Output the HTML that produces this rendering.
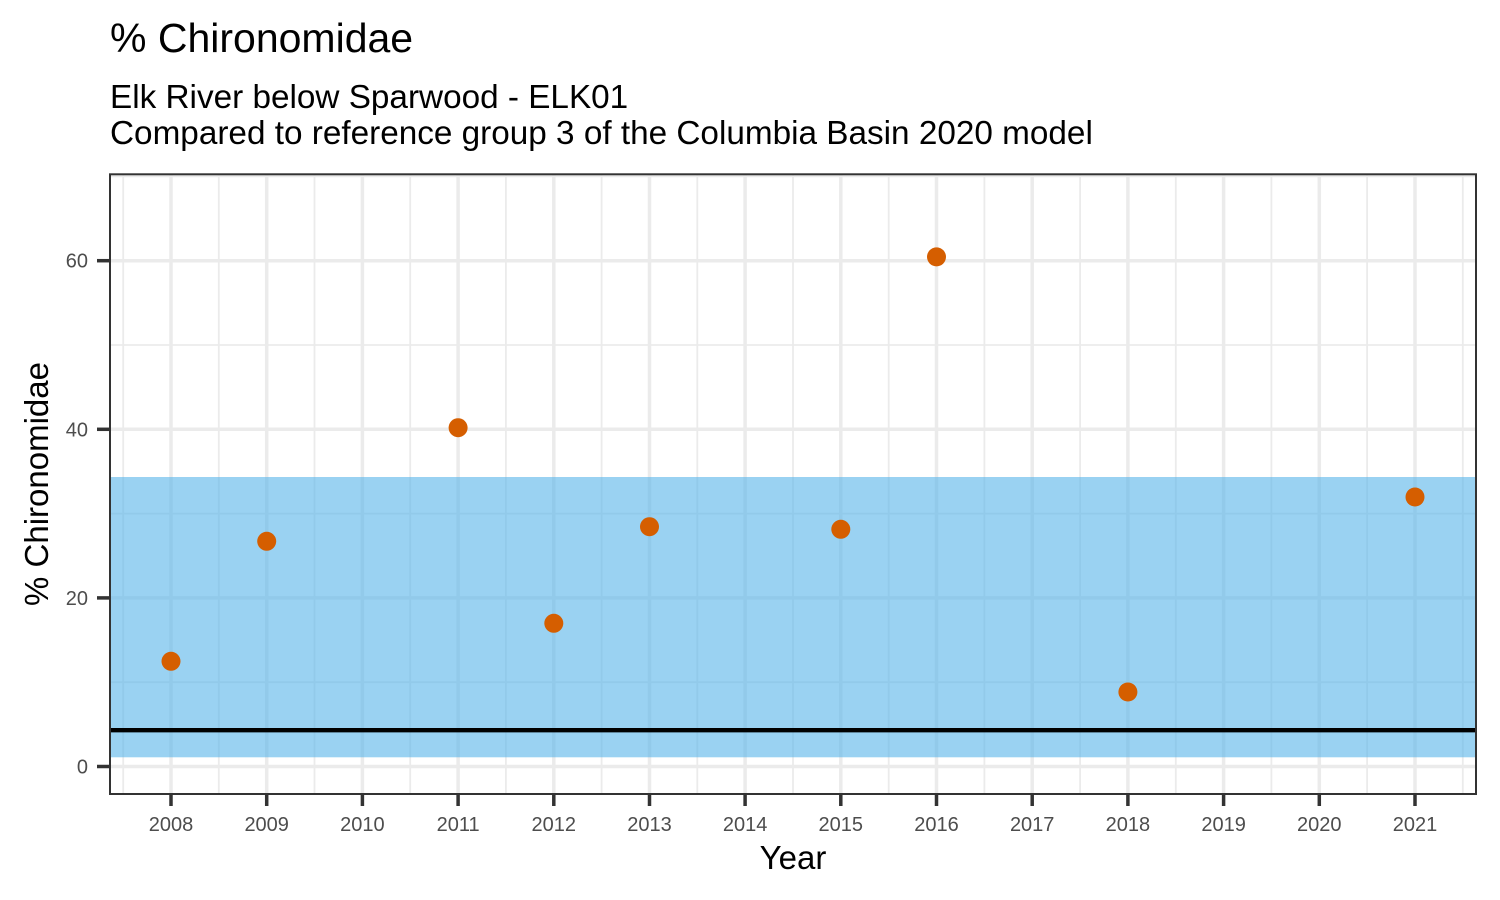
<!DOCTYPE html>
<html>
<head>
<meta charset="utf-8">
<style>
  html, body { margin: 0; padding: 0; background: #ffffff; }
  svg { display: block; }
  text { font-family: "Liberation Sans", Arial, sans-serif; }
</style>
</head>
<body>
<svg width="1500" height="900" viewBox="0 0 1500 900" xmlns="http://www.w3.org/2000/svg">
  <rect x="0" y="0" width="1500" height="900" fill="#ffffff"/>

  <!-- Titles -->
  <text x="110" y="52" font-size="41" fill="#000000">% Chironomidae</text>
  <text x="110" y="108" font-size="33.3" fill="#000000">Elk River below Sparwood - ELK01</text>
  <text x="110" y="144" font-size="33.3" fill="#000000">Compared to reference group 3 of the Columbia Basin 2020 model</text>

  <!-- Panel background -->
  <rect x="110" y="174" width="1366" height="620" fill="#ffffff"/>

  <g clip-path="url(#pc)">
    <clipPath id="pc"><rect x="110" y="174" width="1366" height="620"/></clipPath>
    <!-- minor grid -->
    <g stroke="#EBEBEB" stroke-width="1.8">
      <line x1="123.2" y1="174" x2="123.2" y2="794"/>
      <line x1="218.8" y1="174" x2="218.8" y2="794"/>
      <line x1="314.5" y1="174" x2="314.5" y2="794"/>
      <line x1="410.2" y1="174" x2="410.2" y2="794"/>
      <line x1="505.9" y1="174" x2="505.9" y2="794"/>
      <line x1="601.6" y1="174" x2="601.6" y2="794"/>
      <line x1="697.3" y1="174" x2="697.3" y2="794"/>
      <line x1="793.0" y1="174" x2="793.0" y2="794"/>
      <line x1="888.7" y1="174" x2="888.7" y2="794"/>
      <line x1="984.4" y1="174" x2="984.4" y2="794"/>
      <line x1="1080.1" y1="174" x2="1080.1" y2="794"/>
      <line x1="1175.8" y1="174" x2="1175.8" y2="794"/>
      <line x1="1271.4" y1="174" x2="1271.4" y2="794"/>
      <line x1="1367.1" y1="174" x2="1367.1" y2="794"/>
      <line x1="1462.8" y1="174" x2="1462.8" y2="794"/>
      <line x1="110" y1="682.2" x2="1476" y2="682.2"/>
      <line x1="110" y1="513.6" x2="1476" y2="513.6"/>
      <line x1="110" y1="345.0" x2="1476" y2="345.0"/>
      <line x1="110" y1="176.4" x2="1476" y2="176.4"/>
    </g>
    <!-- major grid -->
    <g stroke="#EBEBEB" stroke-width="3.5">
      <line x1="171" y1="174" x2="171" y2="794"/>
      <line x1="266.7" y1="174" x2="266.7" y2="794"/>
      <line x1="362.4" y1="174" x2="362.4" y2="794"/>
      <line x1="458.1" y1="174" x2="458.1" y2="794"/>
      <line x1="553.8" y1="174" x2="553.8" y2="794"/>
      <line x1="649.5" y1="174" x2="649.5" y2="794"/>
      <line x1="745.1" y1="174" x2="745.1" y2="794"/>
      <line x1="840.8" y1="174" x2="840.8" y2="794"/>
      <line x1="936.5" y1="174" x2="936.5" y2="794"/>
      <line x1="1032.2" y1="174" x2="1032.2" y2="794"/>
      <line x1="1127.9" y1="174" x2="1127.9" y2="794"/>
      <line x1="1223.6" y1="174" x2="1223.6" y2="794"/>
      <line x1="1319.3" y1="174" x2="1319.3" y2="794"/>
      <line x1="1415" y1="174" x2="1415" y2="794"/>
      <line x1="110" y1="766.5" x2="1476" y2="766.5"/>
      <line x1="110" y1="597.9" x2="1476" y2="597.9"/>
      <line x1="110" y1="429.3" x2="1476" y2="429.3"/>
      <line x1="110" y1="260.7" x2="1476" y2="260.7"/>
    </g>

    <!-- reference band -->
    <rect x="110" y="477" width="1366" height="280.3" fill="#56B4E9" fill-opacity="0.6"/>

    <!-- reference line -->
    <line x1="110" y1="730.2" x2="1476" y2="730.2" stroke="#000000" stroke-width="4.3"/>

    <!-- points -->
    <g fill="#D55E00">
      <circle cx="171" cy="661.3" r="9.5"/>
      <circle cx="266.7" cy="541.3" r="9.5"/>
      <circle cx="458.1" cy="427.7" r="9.5"/>
      <circle cx="553.8" cy="623.3" r="9.5"/>
      <circle cx="649.5" cy="526.7" r="9.5"/>
      <circle cx="840.8" cy="529.3" r="9.5"/>
      <circle cx="936.5" cy="256.9" r="9.5"/>
      <circle cx="1127.9" cy="692" r="9.5"/>
      <circle cx="1415" cy="497" r="9.5"/>
    </g>
  </g>

  <!-- panel border -->
  <rect x="110" y="174.3" width="1366" height="619.7" fill="none" stroke="#333333" stroke-width="2"/>

  <!-- y ticks -->
  <g stroke="#333333" stroke-width="3.5">
    <line x1="97" y1="766.5" x2="110" y2="766.5"/>
    <line x1="97" y1="597.9" x2="110" y2="597.9"/>
    <line x1="97" y1="429.3" x2="110" y2="429.3"/>
    <line x1="97" y1="260.7" x2="110" y2="260.7"/>
  </g>
  <g font-size="20" fill="#4D4D4D" text-anchor="end">
    <text x="88" y="773.5">0</text>
    <text x="88" y="604.9">20</text>
    <text x="88" y="436.3">40</text>
    <text x="88" y="267.7">60</text>
  </g>

  <!-- x ticks -->
  <g stroke="#333333" stroke-width="3.5">
    <line x1="171" y1="794" x2="171" y2="806"/>
    <line x1="266.7" y1="794" x2="266.7" y2="806"/>
    <line x1="362.4" y1="794" x2="362.4" y2="806"/>
    <line x1="458.1" y1="794" x2="458.1" y2="806"/>
    <line x1="553.8" y1="794" x2="553.8" y2="806"/>
    <line x1="649.5" y1="794" x2="649.5" y2="806"/>
    <line x1="745.1" y1="794" x2="745.1" y2="806"/>
    <line x1="840.8" y1="794" x2="840.8" y2="806"/>
    <line x1="936.5" y1="794" x2="936.5" y2="806"/>
    <line x1="1032.2" y1="794" x2="1032.2" y2="806"/>
    <line x1="1127.9" y1="794" x2="1127.9" y2="806"/>
    <line x1="1223.6" y1="794" x2="1223.6" y2="806"/>
    <line x1="1319.3" y1="794" x2="1319.3" y2="806"/>
    <line x1="1415" y1="794" x2="1415" y2="806"/>
  </g>
  <g font-size="20" fill="#4D4D4D" text-anchor="middle">
    <text x="171" y="831">2008</text>
    <text x="266.7" y="831">2009</text>
    <text x="362.4" y="831">2010</text>
    <text x="458.1" y="831">2011</text>
    <text x="553.8" y="831">2012</text>
    <text x="649.5" y="831">2013</text>
    <text x="745.1" y="831">2014</text>
    <text x="840.8" y="831">2015</text>
    <text x="936.5" y="831">2016</text>
    <text x="1032.2" y="831">2017</text>
    <text x="1127.9" y="831">2018</text>
    <text x="1223.6" y="831">2019</text>
    <text x="1319.3" y="831">2020</text>
    <text x="1415" y="831">2021</text>
  </g>

  <!-- axis titles -->
  <text x="793" y="869" font-size="33" fill="#000000" text-anchor="middle">Year</text>
  <text transform="translate(48,484) rotate(-90)" x="0" y="0" font-size="33" fill="#000000" text-anchor="middle">% Chironomidae</text>
</svg>
</body>
</html>
